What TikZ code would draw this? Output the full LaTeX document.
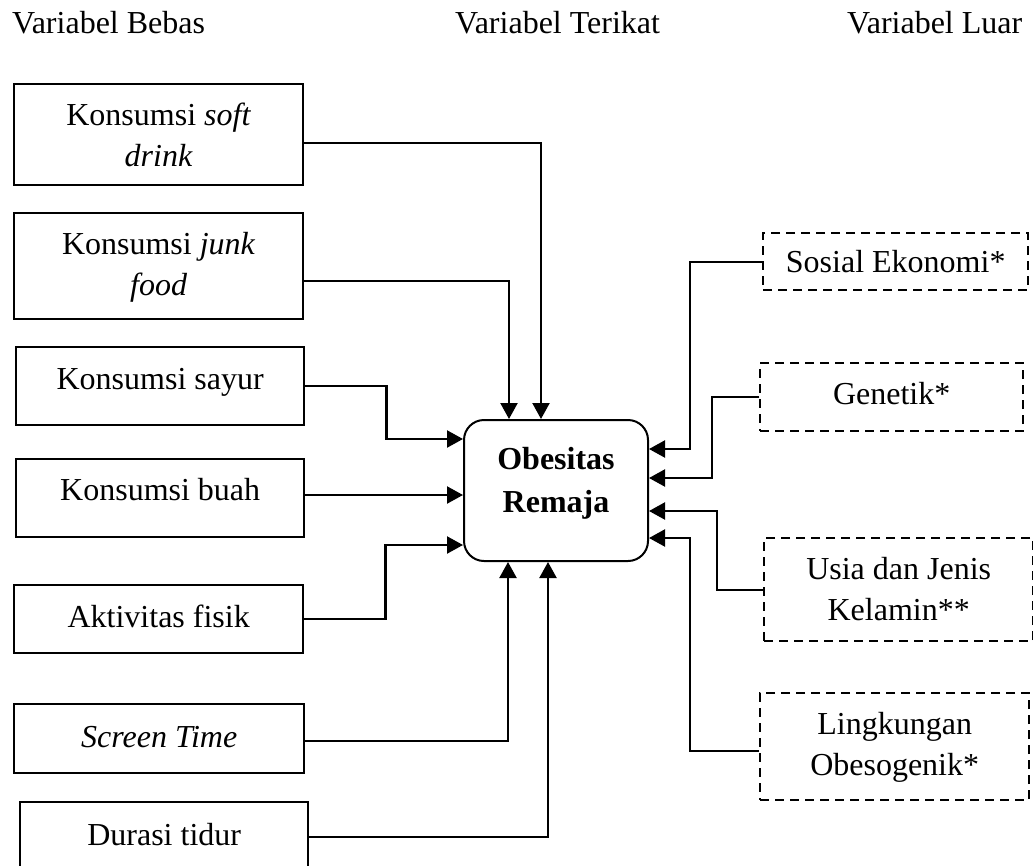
\documentclass[tikz,border=0pt]{standalone}
\usepackage{fontspec}
\setmainfont{Liberation Serif}
\usetikzlibrary{arrows.meta}
\tikzset{
  bx/.style={font=\fontsize{32}{41}\selectfont, inner xsep=0pt, inner ysep=0pt, minimum height=0pt, anchor=north west},
  solidbox/.style={bx, draw, line width=2.4pt},
  dashbox/.style={bx, draw, line width=2.4pt, dash pattern=on 9pt off 6pt},
  mainbox/.style={bx, draw, line width=2pt, rounded corners=20pt, font=\fontsize{32}{43}\selectfont\bfseries},
  conn/.style={line width=2.2pt},
  arr/.style={conn, -{Triangle[length=16pt,width=17pt]}},
  header/.style={font=\fontsize{32}{41}\selectfont, inner sep=0pt, anchor=base west},
}
\newcommand{\twol}[2]{\begin{tabular}[b]{@{}c@{}}#1\\#2\end{tabular}}
\begin{document}
\begin{tikzpicture}[x=1pt,y=-1pt]
\useasboundingbox (0,0) rectangle (1033,865);
% headers
\node[header] (h1) at (12,33) {Variabel Bebas};
\node[header] (h2) at (455,33) {Variabel Terikat};
\node[header] (h3) at (847,33) {Variabel Luar};
% left boxes
\node[solidbox, minimum width=289pt, text height=82pt, text depth=19pt] (soft) at (13,83) {\twol{Konsumsi \textit{soft}}{\textit{drink}}};
\node[solidbox, minimum width=289pt, text height=82pt, text depth=24pt] (junk) at (13,212) {\twol{Konsumsi \textit{junk}}{\textit{food}}};
\node[solidbox, minimum width=288pt, text height=42pt, text depth=36pt] (sayur) at (15,346) {Konsumsi sayur};
\node[solidbox, minimum width=288pt, text height=41pt, text depth=37pt] (buah) at (15,458) {Konsumsi buah};
\node[solidbox, minimum width=289pt, text height=42pt, text depth=26pt] (akt) at (13,584) {Aktivitas fisik};
\node[solidbox, minimum width=290pt, text height=43pt, text depth=26pt] (screen) at (13,703) {\textit{Screen Time}};
\node[solidbox, minimum width=288pt, text height=43pt, text depth=26pt] (durasi) at (19,801) {Durasi tidur};
% centre
\node[mainbox, minimum width=184pt, text height=92pt, text depth=49pt] (obes) at (463,419) {\begin{tabular}[b]{@{}c@{}}Obesitas\\Remaja\end{tabular}};
% right boxes
\node[dashbox, minimum width=265pt, text height=39pt, text depth=18pt] (sosial) at (762,232) {Sosial Ekonomi*};
\node[dashbox, minimum width=263pt, text height=41pt, text depth=27pt] (genetik) at (759,362) {Genetik*};
\node[dashbox, minimum width=269pt, text height=82pt, text depth=21pt] (usia) at (763,537) {\twol{Usia dan Jenis}{Kelamin**}};
\node[dashbox, minimum width=269pt, text height=82pt, text depth=25pt] (ling) at (759,692) {\twol{Lingkungan}{Obesogenik*}};
% left connectors
\draw[arr] ([yshift=-8.5pt]soft.east) -| ([xshift=-15pt]obes.north);
\draw[arr] ([yshift=-15pt]junk.east) -| ([xshift=-47pt]obes.north);
\draw[arr] (sayur.east) -- ++(81,0) |- ([yshift=51.5pt]obes.west);
\draw[arr] ([yshift=-4.5pt]obes.west -| buah.east) -- ([yshift=-4.5pt]obes.west);
\draw[arr] (akt.east) -- ++(81,0) |- ([yshift=-54.5pt]obes.west);
\draw[arr] ([yshift=-2.5pt]screen.east) -| ([xshift=-48pt]obes.south);
\draw[arr] (durasi.east) -| ([xshift=-8pt]obes.south);
% right connectors
\draw[arr] (sosial.west) -- ++(-72,0) |- ([yshift=41.5pt]obes.east);
\draw[arr] (genetik.west) -- ++(-47,0) |- ([yshift=12.5pt]obes.east);
\draw[arr] (usia.west) -- ++(-46,0) |- ([yshift=-20.5pt]obes.east);
\draw[arr] ([yshift=-4.5pt]ling.west) -- ++(-69,0) |- ([yshift=-47.5pt]obes.east);
\end{tikzpicture}
\end{document}
